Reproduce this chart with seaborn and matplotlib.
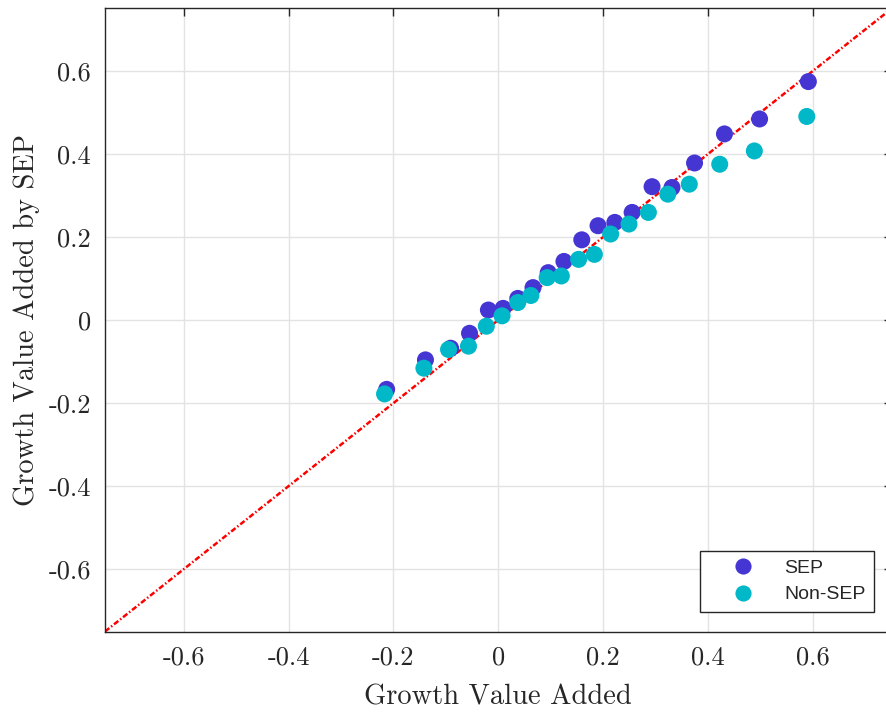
import matplotlib
matplotlib.use("Agg")
import matplotlib.pyplot as plt
import seaborn as sns
import pandas as pd

sns.set_theme(style="whitegrid")
plt.rcParams["font.family"] = ["cmr10", "DejaVu Serif"]
plt.rcParams["axes.unicode_minus"] = False

# values
sep_x = [-0.213, -0.139, -0.091, -0.055, -0.019, 0.009, 0.037, 0.066, 0.095, 0.125,
         0.159, 0.190, 0.222, 0.255, 0.293, 0.331, 0.374, 0.431, 0.498, 0.591]
sep_y = [-0.167, -0.096, -0.068, -0.032, 0.024, 0.028, 0.052, 0.078, 0.114, 0.141,
         0.193, 0.227, 0.235, 0.259, 0.321, 0.319, 0.378, 0.448, 0.484, 0.574]
non_x = [-0.217, -0.142, -0.095, -0.057, -0.023, 0.007, 0.037, 0.062, 0.093, 0.120,
         0.153, 0.183, 0.214, 0.249, 0.286, 0.323, 0.364, 0.422, 0.488, 0.588]
non_y = [-0.178, -0.116, -0.071, -0.063, -0.015, 0.010, 0.042, 0.059, 0.102, 0.106,
         0.146, 0.158, 0.207, 0.231, 0.259, 0.303, 0.327, 0.375, 0.407, 0.490]
groups = ["SEP", "Non-SEP"]
ticks = [-0.6, -0.4, -0.2, 0, 0.2, 0.4, 0.6]
tick_labels = ["-0.6", "-0.4", "-0.2", "0", "0.2", "0.4", "0.6"]
lims = [-0.75, 0.75]

df = pd.DataFrame({
    "x": sep_x + non_x,
    "y": sep_y + non_y,
    "group": [groups[0]] * len(sep_x) + [groups[1]] * len(non_x),
})

fig = plt.figure(figsize=(8.86, 7.13), dpi=100)
ax = fig.add_axes([0.1185, 0.1143, 0.888, 0.8738])
ax.set_facecolor("white")

# y = x reference line, short MATLAB-like dash-dot
ax.plot(lims, lims, color="#ff0000", linestyle=(0, (2.2, 0.9, 0.6, 0.9)),
        linewidth=1.8, zorder=1)
sns.scatterplot(data=df, x="x", y="y", hue="group",
                palette={"SEP": "#4536d3", "Non-SEP": "#00b8c8"},
                s=150, edgecolor="none", alpha=1.0, ax=ax, zorder=3)

ax.set_xlim(lims)
ax.set_ylim(lims)
ax.set_xticks(ticks)
ax.set_xticklabels(tick_labels)
ax.set_yticks(ticks)
ax.set_yticklabels(tick_labels)
ax.tick_params(direction="in", length=6, width=1, colors="#262626",
               labelsize=19, top=True, right=True, pad=10)
ax.grid(True, color="#e3e3e3", linewidth=1)
for side in ["left", "bottom", "top", "right"]:
    ax.spines[side].set_color("#262626")
    ax.spines[side].set_linewidth(1)

ax.set_xlabel("Growth Value Added", fontsize=20.5, color="#262626", labelpad=11)
ax.set_ylabel("Growth Value Added by SEP", fontsize=20.5, color="#262626", labelpad=6)

handles, labels = ax.get_legend_handles_labels()
leg = ax.legend(handles, labels, loc="lower right", bbox_to_anchor=(0.978, 0.031),
                fancybox=False, framealpha=1, edgecolor="#262626", markerscale=0.95,
                prop={"family": "Liberation Sans", "size": 14},
                handlelength=3.5, handletextpad=0.4, borderpad=0.45,
                labelspacing=0.45, borderaxespad=0)
leg.get_frame().set_linewidth(1)

fig.savefig("out.png", dpi=100)
